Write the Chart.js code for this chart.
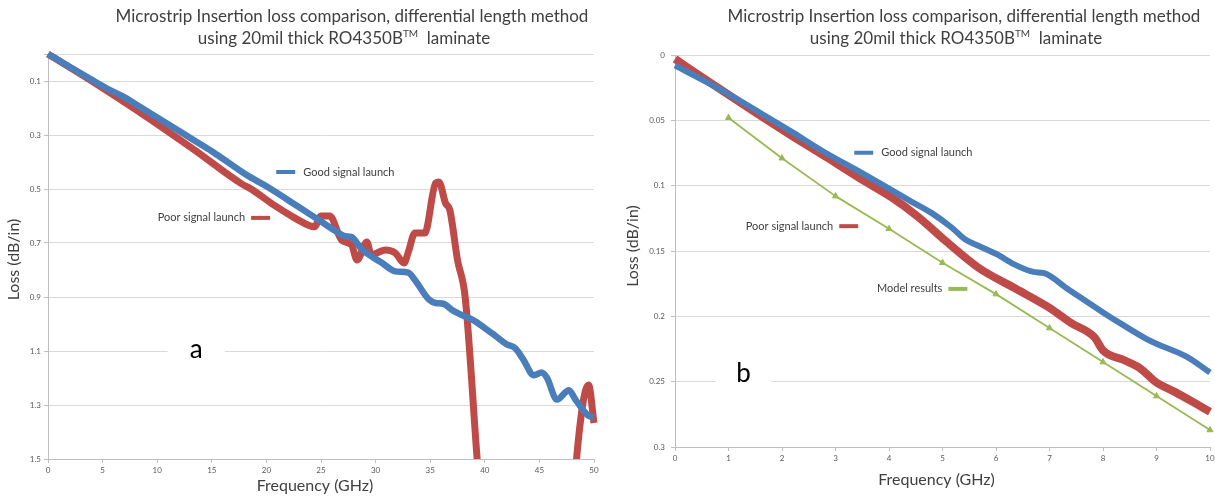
<!DOCTYPE html>
<html>
<head>
<meta charset="utf-8">
<script src="https://cdn.jsdelivr.net/npm/chart.js@4.4.0/dist/chart.umd.min.js"></script>
<style>
  html, body { margin: 0; padding: 0; background: #fff; }
  .wrap { display: flex; width: 1215px; height: 497px; }
  canvas { display: block; }
</style>
</head>
<body>
<div class="wrap">
  <canvas id="chartA" width="607" height="497"></canvas>
  <canvas id="chartB" width="608" height="497"></canvas>
</div>
<script>
// ---- data, chart a (0-50 GHz) ----
var goodFreqA = [0, 2, 3.9, 5.5, 6.9, 8, 10, 13.4, 15, 17.7, 18.6, 20, 22.9, 24.8, 26.5, 27.2, 27.8, 28.7, 30.6, 31.8, 33.0, 33.6, 34.9, 35.5, 36.2, 37.0, 37.8, 38.9, 40, 41, 42, 42.8, 43.5, 44.5, 45.2, 45.7, 46.6, 47.7, 48.3, 49.5, 50];
var goodLossA = [0, 0.048, 0.093, 0.13, 0.158, 0.185, 0.235, 0.32, 0.36, 0.435, 0.458, 0.49, 0.565, 0.615, 0.66, 0.675, 0.678, 0.722, 0.774, 0.805, 0.81, 0.837, 0.91, 0.922, 0.925, 0.948, 0.965, 0.985, 1.015, 1.045, 1.075, 1.09, 1.13, 1.19, 1.18, 1.2, 1.28, 1.245, 1.28, 1.34, 1.345];
var poorFreqA = [0, 3.9, 8, 13.4, 17.7, 18.6, 20.7, 22.5, 23.8, 24.4, 25.0, 25.8, 26.9, 27.8, 28.3, 29.2, 29.6, 30.9, 31.8, 32.6, 33.0, 33.6, 34.5, 35.5, 35.8, 36.4, 36.8, 37.5, 38.2, 39.3, 39.8, 48.0, 48.4, 49.5, 50];
var poorLossA = [0, 0.097, 0.205, 0.355, 0.48, 0.50, 0.56, 0.605, 0.633, 0.64, 0.60, 0.60, 0.69, 0.707, 0.763, 0.696, 0.744, 0.726, 0.737, 0.774, 0.733, 0.663, 0.663, 0.478, 0.474, 0.552, 0.578, 0.763, 0.90, 1.5, 1.75, 1.75, 1.5, 1.226, 1.367];
var lossTicksA = [0, 0.1, 0.3, 0.5, 0.7, 0.9, 1.1, 1.3, 1.5];
var lossLabelsA = ['', '0.1', '0.3', '0.5', '0.7', '0.9', '1.1', '1.3', '1.5'];

// ---- data, chart b (0-10 GHz) ----
var goodFreqB = [0, 0.65, 1.58, 2.19, 2.82, 3.44, 4.37, 4.8, 5.17, 5.42, 5.67, 6.04, 6.33, 6.7, 6.9, 7.34, 8.0, 8.35, 8.8, 9.0, 9.57, 10];
var goodLossB = [0.008, 0.022, 0.044, 0.059, 0.075, 0.089, 0.111, 0.121, 0.132, 0.141, 0.146, 0.153, 0.160, 0.166, 0.167, 0.179, 0.197, 0.206, 0.217, 0.221, 0.231, 0.243];
var poorFreqB = [0, 0.65, 1.58, 2.19, 2.82, 3.44, 4.05, 4.55, 5.05, 5.68, 6.33, 6.98, 7.4, 7.84, 8.0, 8.42, 8.7, 8.98, 9.35, 9.7, 10];
var poorLossB = [0.003, 0.021, 0.046, 0.062, 0.078, 0.094, 0.109, 0.124, 0.142, 0.163, 0.178, 0.193, 0.205, 0.216, 0.226, 0.234, 0.240, 0.250, 0.258, 0.266, 0.273];
var modelFreqB = [1, 2, 3, 4, 5, 6, 7, 8, 9, 10];
var modelLossB = [0.048, 0.079, 0.108, 0.133, 0.159, 0.183, 0.209, 0.235, 0.261, 0.287];
var lossTicksB = [0, 0.05, 0.1, 0.15, 0.2, 0.25, 0.3];
var lossLabelsB = ['0', '0.05', '0.1', '0.15', '0.2', '0.25', '0.3'];

var titleLine1 = 'Microstrip Insertion loss comparison, differential length method';
var titleLine2 = 'using 20mil thick RO4350B';
var titleSup = 'TM';
var titleLine2End = '  laminate';
var xTitle = 'Frequency (GHz)';
var yTitle = 'Loss (dB/in)';

var BLUE = '#4A7EBB', RED = '#BE4B48', GREEN = '#98B954', TEXT = '#404040';

function pts(xs, ys) {
    return xs.map((x, i) => ({ x: x, y: ys[i] }));
}

// draws titles, axis titles, inline series labels and the panel letter
var overlay = {
    id: 'overlay',
    afterDraw(chart, args, o) {
        var ctx = chart.ctx, area = chart.chartArea;
        var sx = chart.scales.x, sy = chart.scales.y;
        ctx.save();
        ctx.fillStyle = TEXT;
        ctx.textBaseline = 'middle';

        // chart title, squeezed a bit to the Calibri width
        ctx.font = '17px Lato';
        var k = Math.min(1, o.titleWidth / ctx.measureText(titleLine1).width);
        ctx.save();
        ctx.translate(o.titleX, 17);
        ctx.scale(k, 1);
        ctx.textAlign = 'center';
        ctx.fillText(titleLine1, 0, 0);
        ctx.restore();

        var wa = ctx.measureText(titleLine2).width;
        var wb = ctx.measureText(titleLine2End).width;
        ctx.font = '10px Lato';
        var wt = ctx.measureText(titleSup).width;
        var start = -(wa + wt + wb) / 2;
        ctx.save();
        ctx.translate(o.titleX - 8, 39);
        ctx.scale(k, 1);
        ctx.textAlign = 'left';
        ctx.font = '17px Lato';
        ctx.fillText(titleLine2, start, 0);
        ctx.font = '10px Lato';
        ctx.fillText(titleSup, start + wa, -5);
        ctx.font = '17px Lato';
        ctx.fillText(titleLine2End, start + wa + wt, 0);
        ctx.restore();

        // axis titles
        ctx.font = '16px Lato';
        ctx.textAlign = 'center';
        ctx.fillText(xTitle, (area.left + area.right) / 2 - 6, area.bottom + o.xTitleGap);
        ctx.save();
        ctx.translate(area.left - o.yTitleGap, (area.top + area.bottom) / 2 + o.yTitleShift);
        ctx.rotate(-Math.PI / 2);
        ctx.fillText(yTitle, 0, 0);
        ctx.restore();

        // inline series labels
        ctx.font = '11px Lato';
        o.labels.forEach(l => {
            var px = sx.getPixelForValue(l.x), py = sy.getPixelForValue(l.y);
            ctx.strokeStyle = l.color;
            ctx.lineWidth = 4;
            ctx.beginPath();
            ctx.moveTo(px, py);
            ctx.lineTo(px + 19, py);
            ctx.stroke();
            if (l.textFirst) {
                ctx.textAlign = 'right';
                ctx.fillText(l.text, px - 6, py);
            } else {
                ctx.textAlign = 'left';
                ctx.fillText(l.text, px + 27, py);
            }
        });

        // panel letter on a white patch over the gridline
        var lx0 = sx.getPixelForValue(o.letter.x0), lx1 = sx.getPixelForValue(o.letter.x1);
        var ly = sy.getPixelForValue(o.letter.y);
        ctx.fillStyle = '#fff';
        ctx.fillRect(lx0, ly - 14, lx1 - lx0, 28);
        ctx.fillStyle = '#000';
        ctx.font = '26px Lato';
        ctx.textAlign = 'center';
        ctx.fillText(o.letter.text, (lx0 + lx1) / 2, ly);
        ctx.restore();
    }
};

function makeOptions(cfg) {
    return {
        responsive: false,
        animation: false,
        layout: { padding: { top: cfg.top, right: cfg.right, left: 0, bottom: 0 } },
        plugins: {
            legend: { display: false },
            tooltip: { enabled: false },
            overlay: cfg.overlay
        },
        scales: {
            x: {
                type: 'linear',
                min: 0,
                max: cfg.xMax,
                ticks: { stepSize: cfg.xStep, color: '#595959', font: { family: 'Lato', size: 8 }, padding: 3, maxRotation: 0 },
                grid: { drawOnChartArea: false, tickLength: 4, color: '#BFBFBF' },
                border: { color: '#BFBFBF' },
                afterFit(s) { s.height = cfg.xHeight; s.paddingLeft = 0; s.paddingRight = 0; }
            },
            y: {
                reverse: true,
                min: 0,
                max: cfg.yMax,
                afterBuildTicks(s) { s.ticks = cfg.yTicks.map(v => ({ value: v })); },
                ticks: {
                    callback: (v, i) => cfg.yLabels[i],
                    color: '#595959',
                    font: { family: 'Lato', size: 8 },
                    padding: cfg.yPad
                },
                grid: { color: '#D9D9D9', tickLength: 4, tickColor: '#BFBFBF' },
                border: { color: '#BFBFBF' },
                afterFit(s) { s.width = cfg.yWidth; }
            }
        }
    };
}

function series(data, color, width) {
    return {
        data: data,
        borderColor: color,
        backgroundColor: color,
        borderWidth: width,
        pointRadius: 0,
        cubicInterpolationMode: 'monotone',
        borderJoinStyle: 'round',
        clip: { left: 6, top: 6, right: 6, bottom: 0 }
    };
}

// Chart a
new Chart(document.getElementById('chartA'), {
    type: 'line',
    data: {
        datasets: [
            series(pts(goodFreqA, goodLossA), BLUE, 6.5),
            series(pts(poorFreqA, poorLossA), RED, 7)
        ]
    },
    options: makeOptions({
        top: 54, right: 13, xMax: 50, xStep: 5, xHeight: 38, yWidth: 48, yPad: 3,
        yMax: 1.5, yTicks: lossTicksA, yLabels: lossLabelsA,
        overlay: {
            titleX: 352, titleWidth: 482, xTitleGap: 27, yTitleGap: 34, yTitleShift: 3,
            labels: [
                { text: 'Good signal launch', color: BLUE, x: 20.9, y: 0.437 },
                { text: 'Poor signal launch', color: RED, x: 18.6, y: 0.607, textFirst: true }
            ],
            letter: { text: 'a', x0: 10.95, x1: 16.2, y: 1.095 }
        }
    }),
    plugins: [overlay]
});

// Chart b
var modelSet = series(pts(modelFreqB, modelLossB), GREEN, 1.8);
modelSet.cubicInterpolationMode = 'default';
modelSet.pointStyle = 'triangle';
modelSet.pointRadius = 3.5;
modelSet.pointBorderWidth = 1;

new Chart(document.getElementById('chartB'), {
    type: 'line',
    data: {
        datasets: [
            series(pts(goodFreqB, goodLossB), BLUE, 6),
            series(pts(poorFreqB, poorLossB), RED, 8),
            modelSet
        ]
    },
    options: makeOptions({
        top: 55, right: 2, xMax: 10, xStep: 1, xHeight: 50, yWidth: 68, yPad: 6,
        yMax: 0.3, yTicks: lossTicksB, yLabels: lossLabelsB,
        overlay: {
            titleX: 357, titleWidth: 482, xTitleGap: 33, yTitleGap: 42, yTitleShift: -5,
            labels: [
                { text: 'Good signal launch', color: BLUE, x: 3.35, y: 0.0748 },
                { text: 'Poor signal launch', color: RED, x: 3.07, y: 0.131, textFirst: true },
                { text: 'Model results', color: GREEN, x: 5.11, y: 0.179, textFirst: true }
            ],
            letter: { text: 'b', x0: 0.76, x1: 1.8, y: 0.244 }
        }
    }),
    plugins: [overlay]
});
</script>
</body>
</html>
